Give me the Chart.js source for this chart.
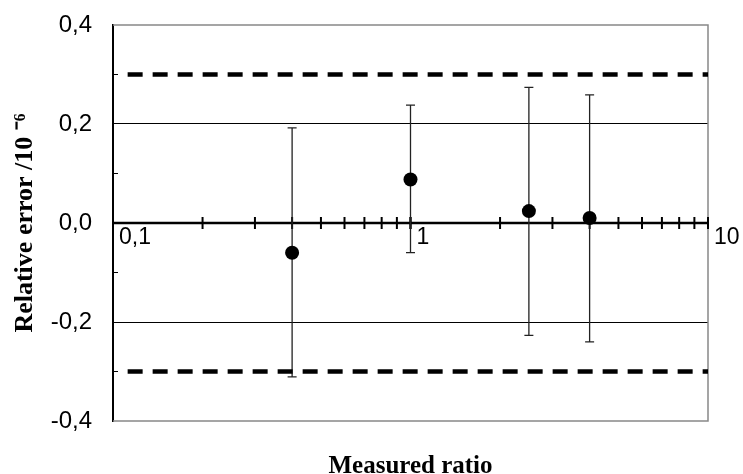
<!DOCTYPE html>
<html>
<head>
<meta charset="utf-8">
<script src="https://cdn.jsdelivr.net/npm/chart.js@4.4.1/dist/chart.umd.min.js"></script>
<style>
  html, body { margin: 0; padding: 0; background: #fff; }
  #wrap { width: 743px; height: 474px; }
</style>
</head>
<body>
<div id="wrap"><canvas id="chart" width="743" height="474"></canvas></div>
<script>
// measured points
const ratios = [0.4, 1.0, 2.5, 4.0];
const relErrors = [-0.06, 0.088, 0.024, 0.010];
const errTop = [0.192, 0.238, 0.274, 0.259];
const errBottom = [-0.311, -0.06, -0.227, -0.240];

// limit lines (+/- 0.3)
const limitX = [0.112, 10];
const limitUpper = [0.3, 0.3];
const limitLower = [-0.3, -0.3];

// axes
const yTicks = [-0.4, -0.2, 0, 0.2, 0.4];
const yMinorTicks = [-0.3, -0.1, 0.1, 0.3];
const xTickValues = [0.1, 1, 10];
const xTickLabels = ['0,1', '1', '10'];

const pts = ratios.map((x, i) => ({ x: x, y: relErrors[i] }));
const upLine = limitX.map((x, i) => ({ x: x, y: limitUpper[i] }));
const lowLine = limitX.map((x, i) => ({ x: x, y: limitLower[i] }));

const axisPlugin = {
  id: 'axisPlugin',
  beforeDatasetsDraw(chart) {
    const { ctx, chartArea: a, scales: { x, y } } = chart;
    ctx.save();

    // frame (top, right, bottom)
    ctx.strokeStyle = '#888';
    ctx.lineWidth = 1.5;
    ctx.beginPath();
    ctx.moveTo(a.left, a.top);
    ctx.lineTo(a.right, a.top);
    ctx.lineTo(a.right, a.bottom);
    ctx.lineTo(a.left, a.bottom);
    ctx.stroke();

    // inner minor ticks on y axis
    ctx.strokeStyle = '#000';
    ctx.lineWidth = 1;
    yMinorTicks.forEach(v => {
      const py = y.getPixelForValue(v);
      ctx.beginPath();
      ctx.moveTo(a.left, py);
      ctx.lineTo(a.left + 5, py);
      ctx.stroke();
    });

    // x axis drawn on y = 0
    const y0 = y.getPixelForValue(0);
    ctx.lineWidth = 2.5;
    ctx.beginPath();
    ctx.moveTo(a.left, y0);
    ctx.lineTo(a.right, y0);
    ctx.stroke();

    ctx.lineWidth = 2;
    for (let d = 0.1; d < 10; d *= 10) {
      for (let k = 1; k <= 10; k++) {
        const px = x.getPixelForValue(d * k);
        ctx.beginPath();
        ctx.moveTo(px, y0 - 6);
        ctx.lineTo(px, y0 + 6);
        ctx.stroke();
      }
    }

    ctx.fillStyle = '#000';
    ctx.font = '23px "Liberation Sans", Arial, sans-serif';
    ctx.textAlign = 'left';
    ctx.textBaseline = 'alphabetic';
    xTickValues.forEach((v, i) => {
      ctx.fillText(xTickLabels[i], x.getPixelForValue(v) + 6, y0 + 21);
    });

    // error bars
    ctx.strokeStyle = '#222';
    ctx.lineWidth = 1.3;
    ratios.forEach((r, i) => {
      const px = x.getPixelForValue(r);
      const t = y.getPixelForValue(errTop[i]);
      const b = y.getPixelForValue(errBottom[i]);
      ctx.beginPath();
      ctx.moveTo(px, t);
      ctx.lineTo(px, b);
      ctx.moveTo(px - 4.5, t);
      ctx.lineTo(px + 4.5, t);
      ctx.moveTo(px - 4.5, b);
      ctx.lineTo(px + 4.5, b);
      ctx.stroke();
    });

    ctx.restore();
  }
};

new Chart(document.getElementById('chart'), {
  type: 'scatter',
  data: {
    datasets: [
      {
        type: 'line',
        data: upLine,
        borderColor: '#000',
        borderWidth: 4.5,
        borderDash: [15, 10],
        pointRadius: 0,
        fill: false
      },
      {
        type: 'line',
        data: lowLine,
        borderColor: '#000',
        borderWidth: 4.5,
        borderDash: [15, 10],
        pointRadius: 0,
        fill: false
      },
      {
        data: pts,
        backgroundColor: '#000',
        borderWidth: 0,
        pointRadius: 7,
        pointHoverRadius: 7
      }
    ]
  },
  options: {
    responsive: false,
    animation: false,
    devicePixelRatio: 1,
    layout: { padding: { top: 25, right: 35, left: 0, bottom: 0 } },
    plugins: { legend: { display: false }, tooltip: { enabled: false } },
    scales: {
      x: {
        type: 'logarithmic',
        position: 'bottom',
        min: 0.1,
        max: 10,
        grid: { display: false },
        border: { display: false },
        ticks: { display: false },
        title: {
          display: true,
          text: 'Measured ratio',
          color: '#000',
          padding: { top: 0, bottom: 0 },
          font: { family: '"Liberation Serif", "Times New Roman", serif', size: 25, weight: 'bold', lineHeight: 0.6 }
        },
        afterFit: s => { s.height = 53; }
      },
      y: {
        min: -0.4,
        max: 0.4,
        afterBuildTicks: s => { s.ticks = yTicks.map(v => ({ value: v })); },
        grid: {
          drawTicks: false,
          lineWidth: 1,
          color: c => (c.tick && Math.abs(Math.abs(c.tick.value) - 0.2) < 1e-6) ? '#000' : 'rgba(0,0,0,0)'
        },
        border: { display: true, color: '#000', width: 2 },
        ticks: {
          padding: 21,
          color: '#000',
          font: { family: '"Liberation Sans", Arial, sans-serif', size: 24 },
          callback: v => Number(v).toFixed(1).replace('.', ',')
        },
        title: {
          display: true,
          text: 'Relative error /10 \u207B\u2076',
          color: '#000',
          padding: { top: 10, bottom: 0 },
          font: { family: '"Liberation Serif", "Times New Roman", serif', size: 26, weight: 'bold', lineHeight: 1.2 }
        },
        afterFit: s => { s.width = 113; s.paddingTop = 0; s.paddingBottom = 0; }
      }
    }
  },
  plugins: [axisPlugin]
});
</script>
</body>
</html>
